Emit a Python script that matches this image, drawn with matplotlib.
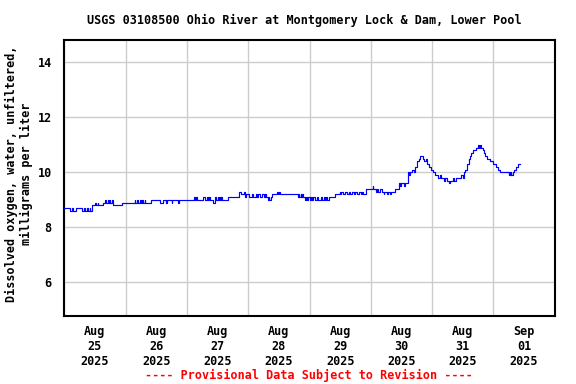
import matplotlib
matplotlib.use("Agg")
import matplotlib.pyplot as plt
import pandas as pd

# ---- data: step-change readings (hours since 2025-08-25 00:00, mg/L) ----
hours = [
    0.0, 2.2, 3.0, 3.5, 4.6, 7.0, 7.75, 8.25, 9.0, 9.25, 10.0, 10.25, 10.7,
    12.0, 12.25, 13.0, 13.25, 15.2, 15.9, 16.2, 17.0, 17.5, 17.75, 18.0, 18.6,
    18.9, 19.2, 22.6,
    27.5, 27.75, 28.5, 28.75, 29.5, 30.0, 30.5, 30.75, 31.5, 31.75, 34.0, 37.5,
    38.5, 40.0, 40.25, 42.0, 42.25, 44.5, 44.75,
    48.4, 50.7, 51.0, 51.5, 51.9, 54.2, 55.0, 55.8, 56.2, 56.5, 57.0, 58.1,
    58.9, 59.0, 59.5, 60.0, 60.25, 60.75, 61.0, 61.5, 61.75, 64.0, 68.3, 69.0,
    70.5, 70.75, 71.25,
    72.5, 73.5, 74.0, 75.0, 75.5, 76.0, 76.5, 77.5, 78.0, 78.5, 79.0, 79.6,
    80.0, 80.3, 80.8, 81.2, 83.2, 83.5, 84.0, 84.3, 91.4, 91.75, 92.0, 92.5,
    92.75, 93.25, 93.5, 94.1, 94.5, 95.0, 95.5,
    96.0, 96.5, 97.0, 97.5, 98.0, 99.0, 99.5, 100.5, 101.0, 101.5, 102.0,
    102.5, 103.0, 103.5, 105.9, 107.8, 108.0, 108.5, 109.0, 110.0, 110.5,
    111.5, 112.0, 112.5, 113.5, 114.0, 114.5, 115.5, 116.0, 116.5, 117.0,
    118.3,
    120.7, 121.0, 122.2, 122.5, 123.0, 123.5, 124.2, 125.0, 125.25, 126.5,
    126.75, 127.5, 127.75, 129.3, 131.2, 131.6, 132.0, 133.0, 133.5, 134.4,
    135.0, 135.5, 136.3, 137.0, 137.5, 138.0, 138.7, 139.4, 140.5, 141.0,
    141.5, 142.1, 142.9, 143.5,
    144.4, 145.3, 146.5, 147.0, 147.6, 148.5, 149.0, 150.0, 150.75, 151.0,
    151.6, 152.0, 152.5, 153.5, 155.5, 156.0, 156.3, 157.0, 157.8, 158.6,
    159.0, 159.4, 160.0, 161.0, 161.8, 162.3, 162.6, 163.0, 163.8, 164.2,
    164.8, 165.6, 166.8, 168.0,
    169.1, 169.9, 170.7, 174.0, 174.25, 174.5, 174.75, 175.0, 175.5, 176.2,
    177.0, 177.5, 178.5,
]
oxygen = [
    8.7, 8.6, 8.7, 8.6, 8.7, 8.6, 8.7, 8.6, 8.7, 8.6, 8.7, 8.6, 8.8,
    8.9, 8.8, 8.9, 8.8, 8.9, 9.0, 8.9, 9.0, 8.9, 9.0, 8.9, 9.0,
    8.9, 8.8, 8.9,
    9.0, 8.9, 9.0, 8.9, 9.0, 8.9, 9.0, 8.9, 9.0, 8.9, 9.0, 8.9,
    9.0, 8.9, 9.0, 8.9, 9.0, 8.9, 9.0,
    9.0, 9.1, 9.0, 9.1, 9.0, 9.1, 9.0, 9.1, 9.0, 9.1, 9.0, 8.9,
    9.0, 9.1, 9.0, 9.1, 9.0, 9.1, 9.0, 9.1, 9.0, 9.1, 9.3, 9.2,
    9.3, 9.1, 9.2,
    9.1, 9.2, 9.1, 9.2, 9.1, 9.2, 9.1, 9.2, 9.1, 9.2, 9.1, 9.0,
    9.1, 9.0, 9.1, 9.2, 9.3, 9.2, 9.3, 9.2, 9.1, 9.2, 9.1, 9.2,
    9.1, 9.2, 9.1, 9.0, 9.1, 9.0, 9.1,
    9.0, 9.1, 9.0, 9.1, 9.0, 9.1, 9.0, 9.1, 9.0, 9.1, 9.0,
    9.1, 9.0, 9.1, 9.2, 9.3, 9.2, 9.3, 9.2, 9.3, 9.2,
    9.3, 9.2, 9.3, 9.2, 9.3, 9.2, 9.3, 9.2, 9.3, 9.2,
    9.4,
    9.5, 9.4, 9.3, 9.4, 9.3, 9.4, 9.3, 9.2, 9.3, 9.2,
    9.3, 9.2, 9.3, 9.4, 9.6, 9.5, 9.6, 9.5, 9.6, 10.0,
    9.9, 10.0, 10.1, 10.0, 10.2, 10.4, 10.5, 10.6, 10.5, 10.4,
    10.5, 10.3, 10.2, 10.1,
    10.0, 9.9, 9.8, 9.9, 9.8, 9.7, 9.8, 9.7, 9.6, 9.7,
    9.7, 9.8, 9.7, 9.8, 9.9, 9.8, 10.0, 10.1, 10.3, 10.5,
    10.6, 10.7, 10.8, 10.9, 11.0, 10.9, 11.0, 10.9, 10.8, 10.7,
    10.6, 10.5, 10.4, 10.3,
    10.2, 10.1, 10.0, 9.9, 10.0, 9.9, 10.0, 9.9, 10.0, 10.1,
    10.2, 10.3, 10.3,
]
start = "2025-08-25 00:00"
end = "2025-09-02 00:00"
day_labels = ["Aug\n25\n2025", "Aug\n26\n2025", "Aug\n27\n2025", "Aug\n28\n2025",
              "Aug\n29\n2025", "Aug\n30\n2025", "Aug\n31\n2025", "Sep\n01\n2025"]
y_ticks = [6, 8, 10, 12, 14]

title = "USGS 03108500 Ohio River at Montgomery Lock & Dam, Lower Pool"
ylabel = "Dissolved oxygen, water, unfiltered,\nmilligrams per liter"
footer = "---- Provisional Data Subject to Revision ----"

# ---- figure ----
W, H = 576, 384
fig = plt.figure(figsize=(W / 100, H / 100), dpi=100)
ax = fig.add_axes([64.3 / W, 1 - 315.7 / H, (554.7 - 64.3) / W, (315.7 - 39.7) / H])

font = dict(family="DejaVu Sans Mono", weight="bold", size=8.5)

t0 = pd.Timestamp(start)
times = [t0 + pd.Timedelta(hours=h) for h in hours]
ax.plot(times, oxygen, drawstyle="steps-post", color="#0000ff", lw=0.85, zorder=3)

ax.set_xlim(pd.Timestamp(start), pd.Timestamp(end))
ax.set_ylim(4.785, 14.82)

midnights = pd.date_range(start, end, freq="D")
noons = pd.date_range("2025-08-25 12:00", periods=len(day_labels), freq="D")
ax.set_xticks(midnights)
ax.set_xticklabels([""] * len(midnights))
ax.set_xticks(noons, minor=True)
ax.set_xticklabels(day_labels, minor=True, **font)
ax.tick_params(axis="x", which="both", length=0)
ax.tick_params(axis="x", which="minor", pad=7)

ax.set_yticks(y_ticks)
ax.set_yticklabels([str(v) for v in y_ticks], **font)
ax.tick_params(axis="y", length=0, pad=9)

ax.grid(True, which="major", color="#cccccc", lw=1.0)
ax.set_axisbelow(True)
for s in ax.spines.values():
    s.set_linewidth(1.5)
    s.set_color("black")

fig.text(304.5 / W, 1 - 20 / H, title, ha="center", va="center", **font)
fig.text(19 / W, 1 - 174 / H, ylabel, ha="center", va="center", rotation=90,
         linespacing=1.1, **font)
fig.text(308.5 / W, 1 - 375 / H, footer, ha="center", va="center", color="red", **font)

fig.savefig("out.png", dpi=100)
